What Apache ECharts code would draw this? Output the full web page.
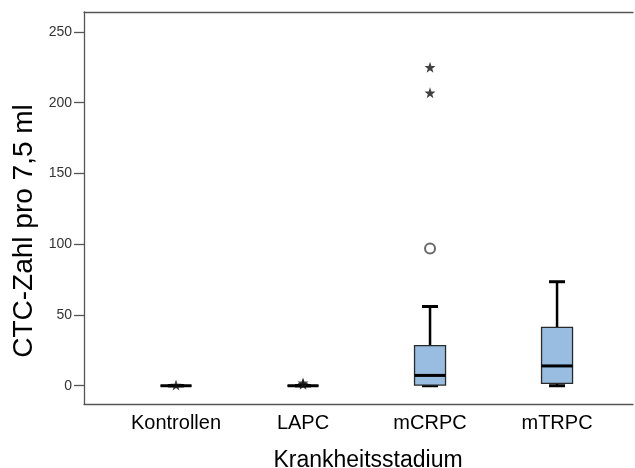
<!DOCTYPE html>
<html>
<head>
<meta charset="utf-8">
<script src="https://cdn.jsdelivr.net/npm/echarts@6/dist/echarts.min.js"></script>
<style>html,body{margin:0;padding:0;background:#fff}#c{width:635px;height:468px}</style>
</head>
<body>
<div id="c"></div>
<script>
var categories = ['Kontrollen', 'LAPC', 'mCRPC', 'mTRPC'];
var minVals = [0, 0, 0, 0];
var q1Vals = [0, 0, 0.5, 1.7];
var medianVals = [0, 0, 7.3, 14];
var q3Vals = [0, 0, 28.3, 41.3];
var maxVals = [0, 0, 56, 73.5];
var outlierCircles = [[2, 97]];
var outlierStars = [[0, 0.5], [1, 1], [1, 2], [2, 207], [2, 225]];
var yTicks = [0, 50, 100, 150, 200, 250];

var boxData = categories.map(function (c, i) {
  return [i + 1, minVals[i], q1Vals[i], medianVals[i], q3Vals[i], maxVals[i]];
});
var circleData = outlierCircles.map(function (d) { return [d[0] + 1, d[1]]; });
var starData = outlierStars.map(function (d) { return [d[0] + 1, d[1]]; });

var starPath = 'path://M0,-10 L2.35,-3.24 L9.51,-3.09 L3.8,1.24 L5.88,8.09 L0,4 L-5.88,8.09 L-3.8,1.24 L-9.51,-3.09 L-2.35,-3.24 Z';
var font = '"Liberation Sans", Arial, sans-serif';

var chart = echarts.init(document.getElementById('c'), null, {renderer: 'canvas'});
chart.setOption({
  animation: false,
  grid: {left: 84, right: 2, top: 12, bottom: 64},
  xAxis: [{
    type: 'value', min: 0.2756, max: 4.598, position: 'bottom',
    axisLine: {show: true, onZero: false, lineStyle: {color: '#555', width: 1.3}},
    axisTick: {show: false}, splitLine: {show: false},
    axisLabel: {
      customValues: [1, 2, 3, 4], margin: 9,
      fontFamily: font, fontSize: 20, color: '#000',
      formatter: function (v) { return categories[Math.round(v) - 1]; }
    }
  }, {
    type: 'value', min: 0.2756, max: 4.598, position: 'top',
    axisLine: {show: true, onZero: false, lineStyle: {color: '#555', width: 1.3}},
    axisTick: {show: false}, splitLine: {show: false}, axisLabel: {show: false}
  }],
  yAxis: {
    type: 'value', min: -12.9, max: 264.1,
    axisLine: {show: true, onZero: false, lineStyle: {color: '#555', width: 1.3}},
    axisTick: {show: true, customValues: yTicks, length: 10, lineStyle: {color: '#555', width: 1.3}},
    splitLine: {show: false},
    axisLabel: {customValues: yTicks, margin: 12, fontFamily: font, fontSize: 14, color: '#333'}
  },
  graphic: [{
    type: 'text', x: 24, y: 231, rotation: Math.PI / 2,
    style: {text: 'CTC-Zahl pro 7,5 ml', font: '28px ' + font, fill: '#000', align: 'center', verticalAlign: 'middle'}
  }, {
    type: 'text', x: 368, y: 461,
    style: {text: 'Krankheitsstadium', font: '23px ' + font, fill: '#000', align: 'center', verticalAlign: 'middle'}
  }],
  series: [{
    type: 'custom',
    data: boxData,
    renderItem: function (params, api) {
      var x = api.value(0);
      var pMin = api.coord([x, api.value(1)]);
      var pQ1 = api.coord([x, api.value(2)]);
      var pMed = api.coord([x, api.value(3)]);
      var pQ3 = api.coord([x, api.value(4)]);
      var pMax = api.coord([x, api.value(5)]);
      var cx = pMed[0];
      var bw = 31, cw = 16;
      var black = {stroke: '#000', lineWidth: 3};
      return {
        type: 'group',
        children: [
          {type: 'line', shape: {x1: cx, y1: pQ3[1], x2: cx, y2: pMax[1]}, style: {stroke: '#000', lineWidth: 2.5}},
          {type: 'line', shape: {x1: cx, y1: pQ1[1], x2: cx, y2: pMin[1]}, style: {stroke: '#000', lineWidth: 2.5}},
          {type: 'line', shape: {x1: cx - cw / 2, y1: pMax[1], x2: cx + cw / 2, y2: pMax[1]}, style: black},
          {type: 'line', shape: {x1: cx - cw / 2, y1: pMin[1], x2: cx + cw / 2, y2: pMin[1]}, style: black},
          {type: 'rect', shape: {x: cx - bw / 2, y: pQ3[1], width: bw, height: pQ1[1] - pQ3[1]},
            style: {fill: '#98BDE0', stroke: '#2a2a2a', lineWidth: 1.3}},
          {type: 'line', shape: {x1: cx - bw / 2, y1: pMed[1], x2: cx + bw / 2, y2: pMed[1]}, style: black}
        ]
      };
    },
    z: 2
  }, {
    type: 'scatter', data: circleData, symbol: 'emptyCircle', symbolSize: 10,
    itemStyle: {color: '#444', borderColor: '#444', borderWidth: 1.4}, z: 3
  }, {
    type: 'scatter', data: starData, symbol: starPath, symbolSize: 11,
    itemStyle: {color: '#111'}, z: 3
  }]
});
</script>
</body>
</html>
